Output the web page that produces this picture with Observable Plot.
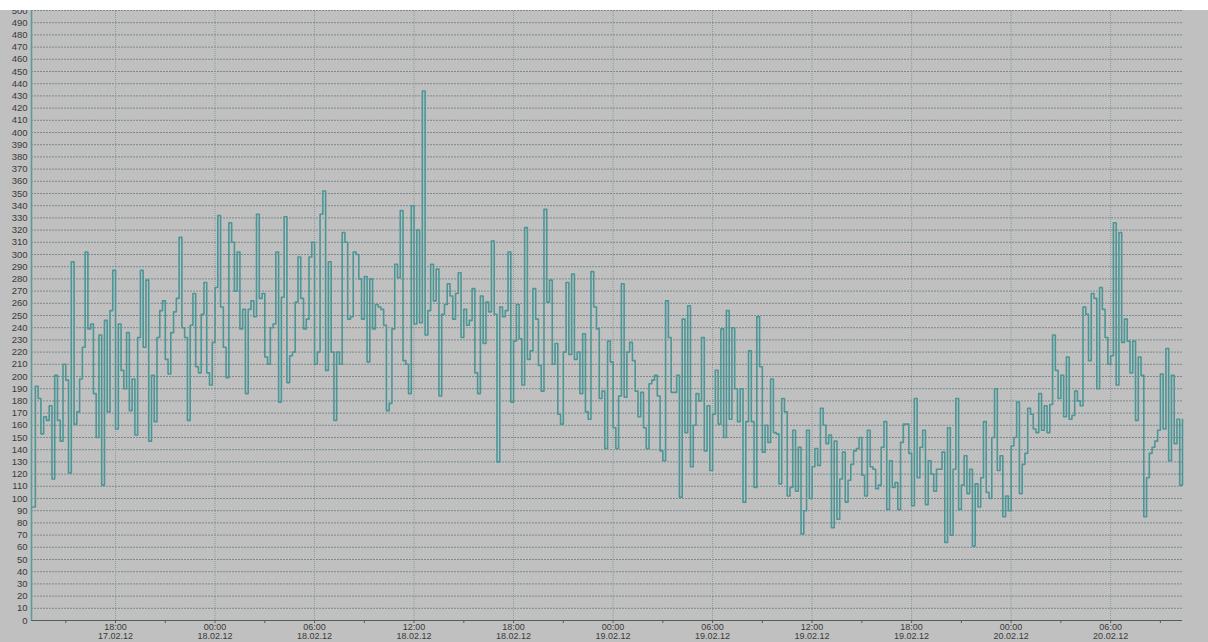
<!DOCTYPE html>
<html><head><meta charset="utf-8">
<script src="https://cdn.jsdelivr.net/npm/d3@7"></script>
<script src="https://cdn.jsdelivr.net/npm/@observablehq/plot@0.6"></script>
<style>
html,body{margin:0;padding:0;background:#ffffff;}
#wrap{position:absolute;top:10px;left:0;width:1208px;height:632px;background:#c0c0c0;overflow:hidden;}
</style></head><body><div id="wrap"></div>
<script>
// time axis: one reading every 10 minutes, starting 17.02.12 13:00
const startTime = new Date(2012, 1, 17, 13, 0);
const stepMinutes = 10;
const domainStart = new Date(2012, 1, 17, 12, 56);
const domainEnd = new Date(2012, 1, 20, 10, 20);

// values, in order
const seg1 = [93,192,182,153,167,164,176,116,201,164,147,210,197,121,294,161,171,198,224,302,
  239,243,186,150,234,111,246,171,254,287,157,243,205,190,236,172,198,152,232,287,
  224,279,147,201,163,232,254,262,214,202,236,253,264,314,240,232,164,242,268,208,
  203,251,277,203,193,228,273,332,257,224,199,326,310,270,302,239,255,186,255,262,
  249,333,264,268,216,210,240,243,302,179,265,331,195,217,220,261,298,264,239,247,
  298,310,210,220];
const seg2 = [333,352,205,294,220,164,220,210,318,310,247,249,302,300,280,247,282,212,280,239,
  259,257,255,242,172,178,239,292,281,336,213,210,186,340,243,320,244,434,234,254,
  292,262,288,184,251,259,276,266,247,268,285,232,255,242,246,272,203,186,266,227,
  261,253,311,251,130,257,249,254,302,179,229,259,231,193,322,214,221,272,247,209,
  188,337,261,279,210,227,169,161,220,277,218,284,214,220,186,235,171,165,286,257,
  239,182,188,141,229];
const seg3 = [212,158,141,184,276,183,220,228,213,188,167,187,158,141,194,197,201,184,139,131,
  262,232,187,187,201,101,247,154,258,126,160,186,180,232,139,176,123,169,205,161,
  239,150,254,165,240,190,163,190,97,163,221,163,109,249,208,138,160,146,198,154,
  153,112,182,171,102,109,156,106,142,71,90,156,100,126,141,127,174,160,145,152,
  76,147,83,116,138,97,115,128,139,141,150,119,102,156,126,124,108,111,142,163,
  91,131,109,113];
const seg4 = [91,146,161,161,137,94,182,117,142,156,95,131,120,106,124,124,138,64,158,70,
  124,182,91,111,135,104,124,61,112,93,117,163,105,100,150,190,123,135,85,102,
  90,143,150,179,104,128,137,174,169,157,154,186,156,176,154,177,234,205,182,201,
  167,216,165,168,188,180,176,257,251,213,268,264,190,273,255,232,210,217,326,193,
  318,228,247,229,203,229,164,216,201,85,117,137,142,147,156,202,157,223,131,201,
  145,165,111,165];

const yTicks = [0,10,20,30,40,50,60,70,80,90,100,110,120,130,140,150,160,170,180,190,200,
  210,220,230,240,250,260,270,280,290,300,310,320,330,340,350,360,370,380,390,400,
  410,420,430,440,450,460,470,480,490,500];
const xMajor = ["2012-02-17T18:00","2012-02-18T00:00","2012-02-18T06:00","2012-02-18T12:00",
  "2012-02-18T18:00","2012-02-19T00:00","2012-02-19T06:00","2012-02-19T12:00",
  "2012-02-19T18:00","2012-02-20T00:00","2012-02-20T06:00"].map(s => new Date(s));
const xMinor = ["2012-02-17T15:00","2012-02-17T21:00","2012-02-18T03:00","2012-02-18T09:00",
  "2012-02-18T15:00","2012-02-18T21:00","2012-02-19T03:00","2012-02-19T09:00",
  "2012-02-19T15:00","2012-02-19T21:00","2012-02-20T03:00","2012-02-20T09:00"].map(s => new Date(s));

const values = [...seg1, ...seg2, ...seg3, ...seg4];
const data = values.map((v, i) => ({t: d3.timeMinute.offset(startTime, i * stepMinutes), v}));

const fmtTime = d3.timeFormat("%H:%M");
const fmtDate = d3.timeFormat("%d.%m.%y");

const chart = Plot.plot({
  width: 1208,
  height: 632,
  marginLeft: 31,
  marginRight: 26,
  marginTop: 0,
  marginBottom: 22,
  style: {background: "transparent", fontFamily: "'Liberation Sans', Arial, sans-serif", color: "#3a3a3a", overflow: "hidden"},
  x: {type: "time", domain: [domainStart, domainEnd], axis: null},
  y: {type: "linear", domain: [0, 500], axis: null},
  marks: [
    Plot.ruleY(yTicks.filter(d => d > 0), {stroke: "#7a8a8a", strokeWidth: 1, strokeDasharray: "2,1"}),
    Plot.ruleX(xMajor, {stroke: "#8e9a9a", strokeWidth: 1, strokeDasharray: "1,1", y1: 0, y2: 500}),
    Plot.ruleY([0], {stroke: "#555c5c", strokeWidth: 1}),
    Plot.ruleX(xMinor, {x: d => d, y1: 0, y2: -2.5, stroke: "#555c5c", strokeWidth: 1}),
    Plot.ruleX(xMajor, {x: d => d, y1: 0, y2: -2.5, stroke: "#555c5c", strokeWidth: 1}),
    Plot.line(data, {x: "t", y: "v", curve: "step-after", stroke: "#4c9696", strokeWidth: 1.6}),
    Plot.ruleX([domainStart], {stroke: "#5a9c9c", strokeWidth: 1.6, y1: 0, y2: 500}),
    Plot.text(yTicks, {x: domainStart, y: d => d, text: d => String(d), textAnchor: "end", dx: -4, fill: "#3a3a3a", fontSize: 9.5}),
    Plot.text(xMajor, {x: d => d, y: 0, text: d => fmtTime(d) + "\n" + fmtDate(d), lineAnchor: "top", dy: 2, lineHeight: 1.1, fill: "#3a3a3a", fontSize: 9})
  ]
});
document.getElementById("wrap").appendChild(chart);
</script>
</body></html>
